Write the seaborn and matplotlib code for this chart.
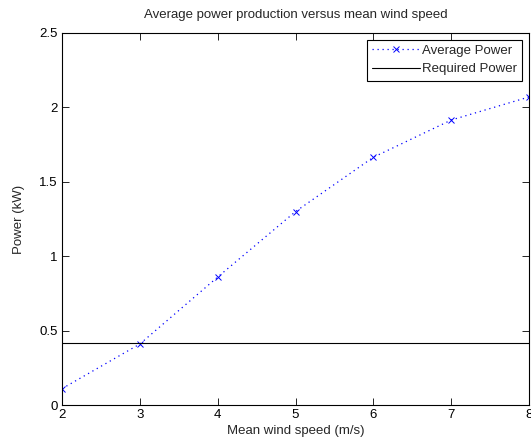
import numpy as np
import pandas as pd
import matplotlib
matplotlib.use("Agg")
import matplotlib.pyplot as plt
import seaborn as sns

# Average power vs mean wind speed
wind_speed = [2, 3, 4, 5, 6, 7, 8]
avg_power = [0.11, 0.41, 0.86, 1.30, 1.665, 1.915, 2.07]
required_power = 0.415

sns.set_style("ticks")
plt.rcParams["font.family"] = ["Liberation Sans", "DejaVu Sans"]
plt.rcParams.update({"font.size": 9.5, "axes.linewidth": 0.8,
                     "xtick.direction": "in", "ytick.direction": "in"})

df = pd.DataFrame({"wind": wind_speed, "power": avg_power})

fig = plt.figure(figsize=(5.31, 4.44), dpi=100)
ax = fig.add_axes([0.1168, 0.0878, 0.8795, 0.8379])

sns.lineplot(data=df, x="wind", y="power", ax=ax, color="blue",
             linestyle=(0, (1, 3)), linewidth=0.9, marker="x", markersize=4,
             markeredgewidth=0.7, markeredgecolor="blue", label="Average Power")
ax.axhline(required_power, color="black", linewidth=0.8, label="Required Power")

ax.set_xlim(2, 8)
ax.set_ylim(0, 2.5)
ax.set_xticks(wind_speed)
ax.set_yticks([0, 0.5, 1, 1.5, 2, 2.5])
ax.set_yticklabels(["0", "0.5", "1", "1.5", "2", "2.5"])
ax.tick_params(top=True, right=True, length=5, width=0.6, colors="black",
               labelsize=9.5, pad=3)
for s in ax.spines.values():
    s.set_visible(True)
    s.set_color("black")

ax.set_xlabel("Mean wind speed (m/s)", fontsize=9.5, labelpad=3)
ax.set_ylabel("Power (kW)", fontsize=9.5, labelpad=10)
ax.set_title("Average power production versus mean wind speed", fontsize=9.5, pad=11)

leg = ax.legend(loc="upper right", fontsize=9.5, fancybox=False, framealpha=1,
                edgecolor="black", handlelength=3.6, borderaxespad=0.5,
                handletextpad=0.2, labelspacing=0.45)
leg.get_frame().set_linewidth(0.8)

fig.savefig("out.png", dpi=100)
